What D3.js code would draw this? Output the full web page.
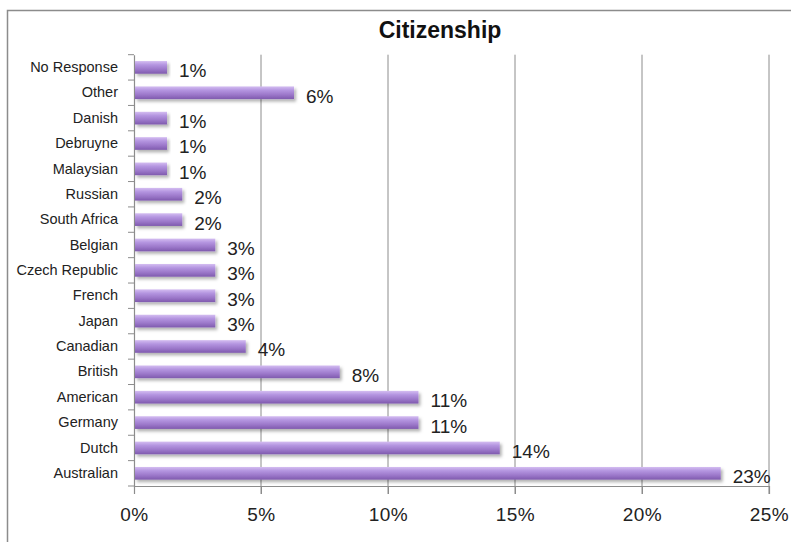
<!DOCTYPE html>
<html>
<head>
<meta charset="utf-8">
<script src="https://cdn.jsdelivr.net/npm/d3@7"></script>
<style>
  body { margin: 0; background: #fff; }
  svg { display: block; font-family: "Liberation Sans", Arial, sans-serif; }
</style>
</head>
<body>
<svg id="chart" width="791" height="542"></svg>
<script>
// data (percent of respondents)
var categories = ["No Response", "Other", "Danish", "Debruyne", "Malaysian", "Russian",
  "South Africa", "Belgian", "Czech Republic", "French", "Japan", "Canadian",
  "British", "American", "Germany", "Dutch", "Australian"];
var values = [1.3, 6.3, 1.3, 1.3, 1.3, 1.9, 1.9, 3.2, 3.2, 3.2, 3.2, 4.4, 8.1, 11.2, 11.2, 14.4, 23.1];
var valueLabels = ["1%", "6%", "1%", "1%", "1%", "2%", "2%", "3%", "3%", "3%", "3%", "4%",
  "8%", "11%", "11%", "14%", "23%"];
var xTicks = [0, 5, 10, 15, 20, 25];
var title = "Citizenship";

var svg = d3.select("#chart");
var plotLeft = 134, plotRight = 769, plotTop = 54.7, plotBottom = 486;

// outer chart border (runs off the right / bottom edge)
svg.append("rect")
  .attr("x", 7.5).attr("y", 10.5)
  .attr("width", 820).attr("height", 560)
  .attr("fill", "none")
  .attr("stroke", "#8c8c8c")
  .attr("stroke-width", 1.5);

var defs = svg.append("defs");
var grad = defs.append("linearGradient")
  .attr("id", "barFill")
  .attr("x1", 0).attr("y1", 0).attr("x2", 0).attr("y2", 1);
grad.append("stop").attr("offset", "0%").attr("stop-color", "#d4bdf1");
grad.append("stop").attr("offset", "30%").attr("stop-color", "#b495e0");
grad.append("stop").attr("offset", "65%").attr("stop-color", "#9c78ca");
grad.append("stop").attr("offset", "100%").attr("stop-color", "#7f5aae");

var shadow = defs.append("filter").attr("id", "shadow")
  .attr("x", "-5%").attr("y", "-30%").attr("width", "115%").attr("height", "190%");
shadow.append("feDropShadow")
  .attr("dx", 2).attr("dy", 2.5)
  .attr("stdDeviation", 1.5)
  .attr("flood-color", "#000")
  .attr("flood-opacity", 0.3);

var xScale = d3.scaleLinear()
  .domain([0, 25])
  .range([plotLeft, plotRight]);

var yScale = d3.scaleBand()
  .domain(categories)
  .range([plotTop, plotBottom])
  .paddingInner(0.5)
  .paddingOuter(0.25);

// vertical gridlines
svg.append("g").attr("class", "grid")
  .selectAll("line")
  .data(xTicks.slice(1))
  .enter().append("line")
  .attr("x1", function(d) { return xScale(d); })
  .attr("x2", function(d) { return xScale(d); })
  .attr("y1", plotTop)
  .attr("y2", plotBottom + 8)
  .attr("stroke", "#8c8c8c")
  .attr("stroke-width", 1);

// x axis
var xAxisG = svg.append("g")
  .attr("class", "x_axis")
  .attr("transform", "translate(0," + plotBottom + ")")
  .call(d3.axisBottom(xScale)
    .tickValues(xTicks)
    .tickSize(8)
    .tickPadding(14)
    .tickFormat(function(d) { return d + "%"; }));
xAxisG.select(".domain").attr("stroke", "#8c8c8c").attr("stroke-width", 1.2);
xAxisG.selectAll(".tick line").attr("stroke", "#8c8c8c");
xAxisG.selectAll("text")
  .style("font-size", "19px")
  .style("letter-spacing", "0.5px")
  .attr("fill", "#222");

// y axis: labels at band centres, ticks at band boundaries
var yAxisG = svg.append("g")
  .attr("class", "y_axis")
  .attr("transform", "translate(" + plotLeft + ",0)")
  .call(d3.axisLeft(yScale).tickSize(0).tickPadding(16));
yAxisG.select(".domain").attr("stroke", "#8c8c8c").attr("stroke-width", 1.2);
yAxisG.selectAll("text")
  .style("font-size", "14.5px")
  .attr("fill", "#222");

yAxisG.selectAll(".bound")
  .data(d3.range(categories.length + 1))
  .enter().append("line")
  .attr("class", "bound")
  .attr("x1", -6).attr("x2", 0)
  .attr("y1", function(i) { return plotTop + i * yScale.step(); })
  .attr("y2", function(i) { return plotTop + i * yScale.step(); })
  .attr("stroke", "#8c8c8c");

// bars
svg.append("g").selectAll(".bar")
  .data(categories)
  .enter().append("rect")
  .attr("class", "bar")
  .attr("x", xScale(0) + 1)
  .attr("y", function(d) { return yScale(d); })
  .attr("width", function(d, i) { return xScale(values[i]) - xScale(0) - 1; })
  .attr("height", yScale.bandwidth())
  .attr("fill", "url(#barFill)")
  .attr("filter", "url(#shadow)");

// value labels
svg.append("g").selectAll(".vlabel")
  .data(categories)
  .enter().append("text")
  .attr("class", "vlabel")
  .attr("x", function(d, i) { return xScale(values[i]) + 12; })
  .attr("y", function(d) { return yScale(d) + yScale.bandwidth() / 2 + 10; })
  .style("font-size", "19px")
  .attr("fill", "#222")
  .text(function(d, i) { return valueLabels[i]; });

// title
svg.append("text")
  .attr("x", 440)
  .attr("y", 38)
  .style("text-anchor", "middle")
  .style("font-size", "23px")
  .style("font-weight", "bold")
  .attr("fill", "#111")
  .text(title);
</script>
</body>
</html>
